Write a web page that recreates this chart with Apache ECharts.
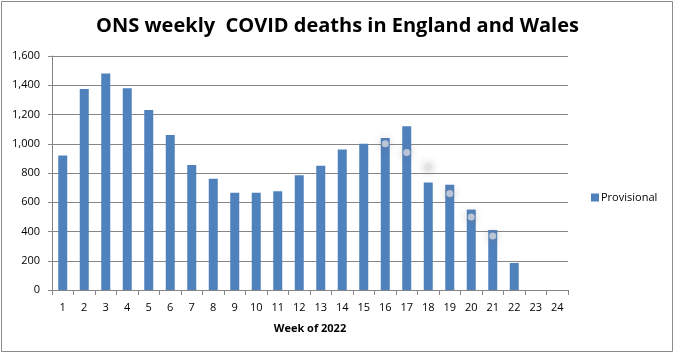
<!DOCTYPE html>
<html>
<head>
<meta charset="utf-8">
<script src="https://cdn.jsdelivr.net/npm/echarts@6/dist/echarts.min.js"></script>
<style>
  html, body { margin: 0; padding: 0; background: #fff; }
  #main { width: 675px; height: 354px; }
</style>
</head>
<body>
<div id="main"></div>
<script>
// week numbers of 2022
let weeks = ['1','2','3','4','5','6','7','8','9','10','11','12','13','14','15','16','17','18','19','20','21','22','23','24'];
// provisional weekly deaths (weeks 23-24 not yet published)
let provisional = [920, 1375, 1480, 1380, 1230, 1060, 855, 760, 665, 665, 675, 785, 850, 960, 1000, 1040, 1120, 735, 720, 550, 410, 185, null, null];
// faint glow dots visible on the later weeks
let glowDots = [null, null, null, null, null, null, null, null, null, null, null, null, null, null, null, 1000, 940, 840, 660, 500, 370, null, null, null];

let fontName = 'Open Sans';

var myChart = echarts.init(document.getElementById('main'));

var option = {
    animation: false,
    backgroundColor: '#fff',
    textStyle: { fontFamily: fontName },
    title: {
        text: 'ONS weekly  COVID deaths in England and Wales',
        left: 'center',
        top: 11,
        textStyle: { fontFamily: fontName, fontSize: 20, fontWeight: 'bold', color: '#000' }
    },
    graphic: [
        {
            type: 'rect',
            shape: { x: 1.5, y: 1.5, width: 671, height: 350 },
            style: { fill: 'none', stroke: '#8a8a8a', lineWidth: 1 }
        }
    ],
    legend: {
        data: ['Provisional'],
        orient: 'vertical',
        left: 586,
        top: 187,
        icon: 'rect',
        itemWidth: 8,
        itemHeight: 8,
        itemGap: 4,
        textStyle: { fontFamily: fontName, fontSize: 11, color: '#000', padding: [0, 0, 0, -3] }
    },
    grid: {
        left: 52,
        right: 107,
        top: 56,
        bottom: 64
    },
    xAxis: {
        type: 'category',
        data: weeks,
        name: 'Week of 2022',
        nameLocation: 'middle',
        nameGap: 33,
        nameTextStyle: { fontFamily: fontName, fontSize: 11, fontWeight: 'bold', color: '#000' },
        axisLine: { lineStyle: { color: '#868686' } },
        axisTick: { show: true, alignWithLabel: false, length: 5, lineStyle: { color: '#868686' } },
        axisLabel: { color: '#000', fontSize: 11, margin: 12, interval: 0 }
    },
    yAxis: {
        type: 'value',
        min: 0,
        max: 1600,
        interval: 200,
        axisLine: { show: true, lineStyle: { color: '#868686' } },
        axisTick: { show: true, length: 4, lineStyle: { color: '#868686' } },
        axisLabel: {
            color: '#000',
            fontSize: 11,
            margin: 12,
            formatter: function (v) { return v.toLocaleString('en-US'); }
        },
        splitLine: { lineStyle: { color: '#868686' } }
    },
    series: [
        {
            name: 'Provisional',
            type: 'bar',
            data: provisional,
            barWidth: 9,
            itemStyle: { color: '#4F81BD' }
        },
        {
            name: 'glow',
            type: 'scatter',
            data: glowDots,
            symbolSize: 7,
            silent: true,
            itemStyle: {
                color: 'rgba(225,225,230,0.9)',
                shadowBlur: 8,
                shadowColor: 'rgba(110,110,110,0.9)'
            },
            z: 3
        }
    ]
};

myChart.setOption(option);
</script>
</body>
</html>
